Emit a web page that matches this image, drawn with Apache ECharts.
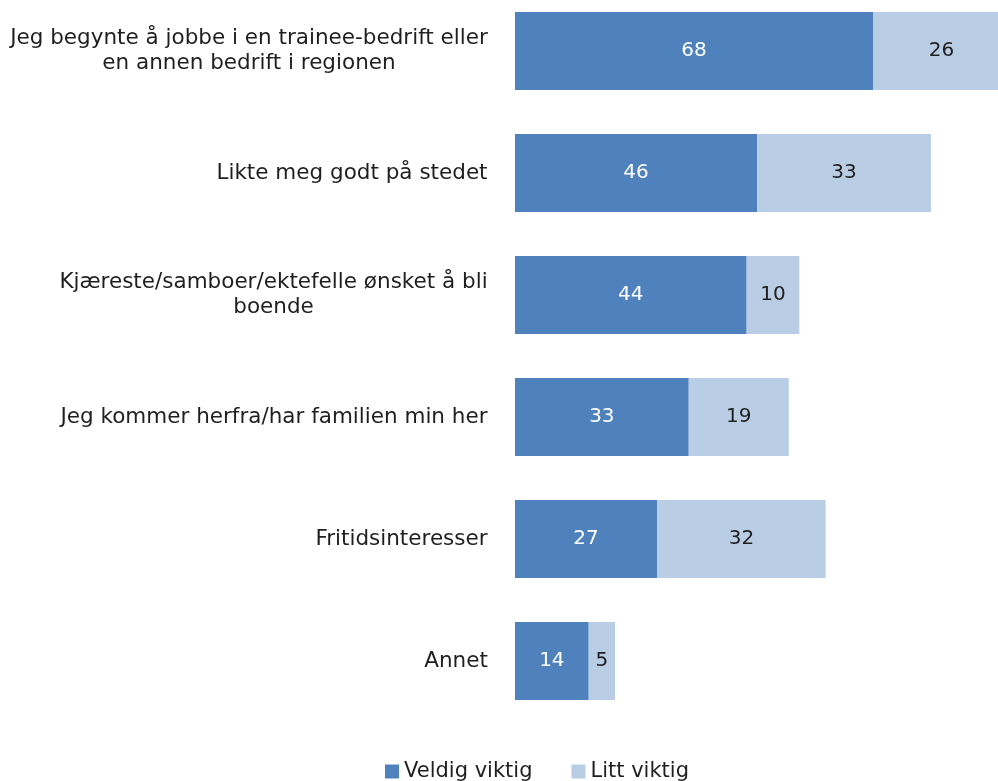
<!DOCTYPE html>
<html>
<head>
<meta charset="utf-8">
<script src="https://cdn.jsdelivr.net/npm/echarts@6/dist/echarts.min.js"></script>
<style>
  html, body { margin: 0; padding: 0; background: #fff; }
  #chart { width: 998px; height: 781px; }
</style>
</head>
<body>
<div id="chart"></div>
<script>
// Reasons for staying in the region, share of respondents (%)
const categories = [
  'Jeg begynte å jobbe i en trainee-bedrift eller\nen annen bedrift i regionen',
  'Likte meg godt på stedet',
  'Kjæreste/samboer/ektefelle ønsket å bli\nboende',
  'Jeg kommer herfra/har familien min her',
  'Fritidsinteresser',
  'Annet'
];
const veldigViktig = [68, 46, 44, 33, 27, 14];
const littViktig = [26, 33, 10, 19, 32, 5];
const seriesNames = ['Veldig viktig', 'Litt viktig'];

const FONT = '"DejaVu Sans", sans-serif';
const LABEL_SIZE = 21.5;

// Multi-line category labels: lines centred within their own block,
// the block itself right-aligned against the axis.
const measureCtx = document.createElement('canvas').getContext('2d');
measureCtx.font = LABEL_SIZE + 'px ' + FONT;
const rich = {};
categories.forEach((c, i) => {
  const w = Math.max(...c.split('\n').map(l => measureCtx.measureText(l).width));
  rich['c' + i] = {
    width: Math.ceil(w) + 2,
    align: 'center',
    fontFamily: FONT,
    fontSize: LABEL_SIZE,
    color: '#1f1f1f',
    lineHeight: 25
  };
});

const chart = echarts.init(document.getElementById('chart'), null, { renderer: 'canvas' });
chart.setOption({
  animation: false,
  grid: {
    left: 515, width: 526.5, top: -10, height: 732,
    containLabel: false, outerBoundsMode: 'none'
  },
  xAxis: { type: 'value', min: 0, max: 100, show: false },
  yAxis: {
    type: 'category',
    inverse: true,
    data: categories,
    axisLine: { show: false },
    axisTick: { show: false },
    splitLine: { show: false },
    axisLabel: {
      margin: 26,
      align: 'right',
      formatter: (val) => {
        const i = categories.indexOf(val);
        return val.split('\n').map(l => '{c' + i + '|' + l + '}').join('\n');
      },
      rich: rich
    }
  },
  legend: {
    left: 380,
    top: 756,
    itemWidth: 14,
    itemHeight: 14,
    itemGap: 39,
    icon: 'rect',
    textStyle: { fontFamily: FONT, fontSize: 21, color: '#1f1f1f' },
    data: seriesNames
  },
  series: [
    {
      name: seriesNames[0],
      type: 'bar',
      stack: 'total',
      barWidth: 78,
      data: veldigViktig,
      itemStyle: { color: '#4F81BD' },
      label: { show: true, position: 'inside', color: '#ffffff', fontFamily: FONT, fontSize: 20 }
    },
    {
      name: seriesNames[1],
      type: 'bar',
      stack: 'total',
      barWidth: 78,
      data: littViktig,
      itemStyle: { color: '#B9CDE5' },
      label: { show: true, position: 'inside', color: '#1f1f1f', fontFamily: FONT, fontSize: 20 }
    }
  ]
});
</script>
</body>
</html>
